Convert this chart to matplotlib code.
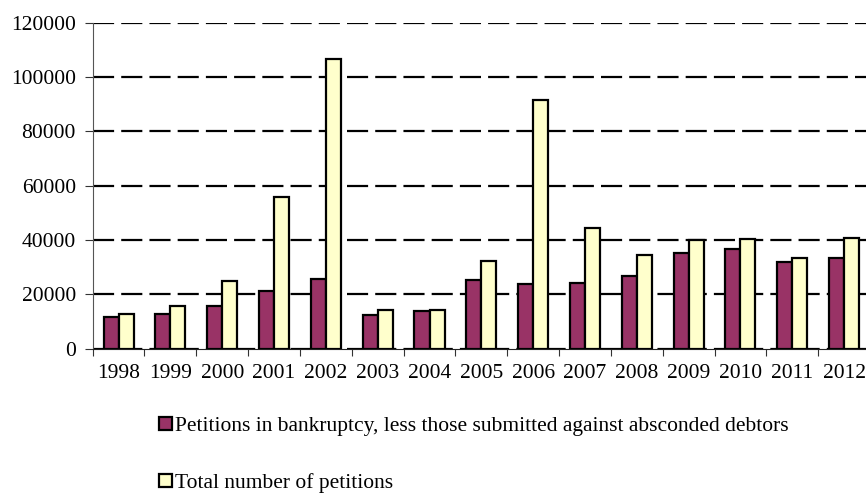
import matplotlib
matplotlib.use("Agg")
import matplotlib.pyplot as plt
import numpy as np

years = ["1998", "1999", "2000", "2001", "2002", "2003", "2004", "2005",
         "2006", "2007", "2008", "2009", "2010", "2011", "2012"]
petitions_net = [11800, 12700, 15700, 21200, 25500, 12400, 13900, 25400,
                 23700, 24200, 26600, 35200, 36700, 32000, 33500]
petitions_total = [12900, 15800, 25000, 56000, 106800, 14400, 14100, 32300,
                   91500, 44300, 34500, 39900, 40400, 33500, 40900]
label_net = "Petitions in bankruptcy, less those submitted against absconded debtors"
label_total = "Total number of petitions"
yticks = [0, 20000, 40000, 60000, 80000, 100000, 120000]

plt.rcParams["font.family"] = ["Liberation Serif", "DejaVu Serif"]
plt.rcParams["font.size"] = 15.5

fig = plt.figure(figsize=(8.66, 4.95), dpi=100)
ax = fig.add_axes([0.107, 0.2956, 0.8976, 0.6586])

x = np.arange(len(years))
w = 0.29
b1 = ax.bar(x - w / 2, petitions_net, width=w, color="#993366",
            edgecolor="black", linewidth=1.6, label=label_net, zorder=3)
b2 = ax.bar(x + w / 2, petitions_total, width=w, color="#FFFFCC",
            edgecolor="black", linewidth=1.6, label=label_total, zorder=3)

ax.set_xlim(-0.5, len(years) - 0.5)
ax.set_ylim(0, 120000)
ax.set_yticks(yticks)
ax.set_yticklabels([str(v) for v in yticks])
ax.yaxis.grid(True, color="black", linewidth=1.6, linestyle=(0, (9.5, 3.2)), zorder=0)
ax.set_axisbelow(True)

ax.set_xticks(x)
ax.set_xticklabels(years)
ax.set_xticks(np.arange(-0.5, len(years) + 0.5, 1.0), minor=True)
ax.tick_params(axis="x", which="major", length=0, pad=11)
ax.tick_params(axis="x", which="minor", length=5, width=0.8, direction="out", color="#333333")
ax.tick_params(axis="y", length=6, width=0.8, direction="out", pad=6, color="#333333")

for side in ("top", "right"):
    ax.spines[side].set_visible(False)
ax.spines["left"].set_color("#555555")
ax.spines["left"].set_linewidth(0.8)
ax.spines["bottom"].set_color("#222222")
ax.spines["bottom"].set_linewidth(0.8)

fig.legend(handles=[b1, b2], loc="upper left", bbox_to_anchor=(0.184, 0.158),
           frameon=False, handlelength=0.6, handleheight=0.6, handletextpad=0.15,
           labelspacing=1.72, borderpad=0, borderaxespad=0, fontsize=15.5)

fig.savefig("out.png", dpi=100)
